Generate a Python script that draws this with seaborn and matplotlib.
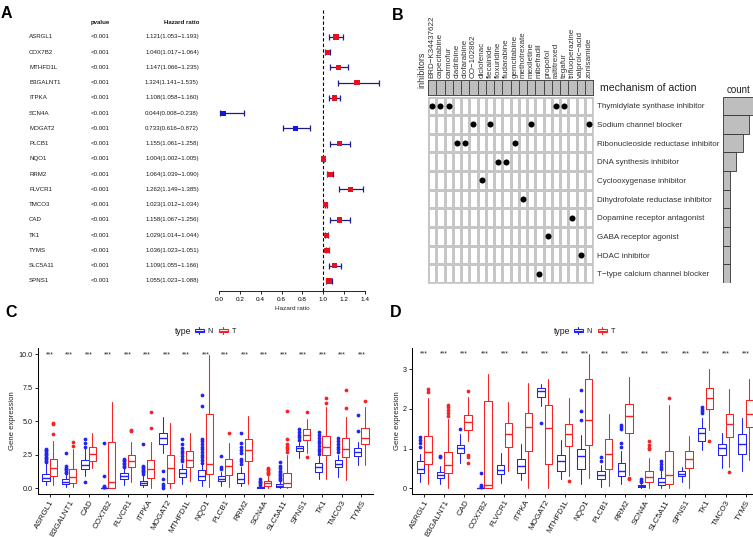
import numpy as np
import pandas as pd
import matplotlib
matplotlib.use("Agg")
import matplotlib.pyplot as plt
import seaborn as sns
from matplotlib import transforms
from matplotlib.colors import ListedColormap
from matplotlib.legend_handler import HandlerBase
from matplotlib.lines import Line2D
from matplotlib.patches import Rectangle, Patch
from matplotlib.ticker import FormatStrFormatter

# ---------------- Panel A data ----------------
a_genes = ["ASRGL1", "COX7B2", "MTHFD1L", "B3GALNT1", "ITPKA", "SCN4A", "MOGAT2", "PLCB1",
           "NQO1", "RRM2", "FLVCR1", "TMCO3", "CAD", "TK1", "TYMS", "SLC5A11", "SPNS1"]
a_pvalue = ["<0.001"] * 17
a_hr = [1.121, 1.040, 1.147, 1.324, 1.108, 0.044, 0.733, 1.155, 1.004, 1.064, 1.262,
        1.023, 1.158, 1.029, 1.036, 1.109, 1.055]
a_low = [1.053, 1.017, 1.066, 1.141, 1.058, 0.008, 0.616, 1.061, 1.002, 1.039, 1.149,
         1.012, 1.067, 1.014, 1.023, 1.055, 1.023]
a_high = [1.193, 1.064, 1.235, 1.535, 1.160, 0.238, 0.872, 1.258, 1.005, 1.090, 1.385,
          1.034, 1.256, 1.044, 1.051, 1.166, 1.088]
a_ticks = [0.0, 0.2, 0.4, 0.6, 0.8, 1.0, 1.2, 1.4]

# ---------------- Panel B data ----------------
b_drugs = ["BRD\u2212K34437622", "capecitabine", "carmofur", "cladribine", "clofarabine",
           "CO\u2212102862", "diclofenac", "flecainide", "floxuridine", "fludarabine",
           "gemcitabine", "methotrexate", "mexiletine", "mibefradil", "propofol",
           "raltitrexed", "tegafur", "trifluoperazine", "valproic\u2212acid", "zonisamide"]
b_moa = ["Thymidylate synthase inhibitor", "Sodium channel blocker",
         "Ribonucleoside reductase inhibitor", "DNA synthesis inhibitor",
         "Cyclooxygenase inhibitor", "Dihydrofolate reductase inhibitor",
         "Dopamine receptor antagonist", "GABA receptor agonist", "HDAC inhibitor",
         "T\u2212type calcium channel blocker"]
b_members = [
    ["BRD\u2212K34437622", "capecitabine", "carmofur", "raltitrexed", "tegafur"],
    ["CO\u2212102862", "flecainide", "mexiletine", "zonisamide"],
    ["cladribine", "clofarabine", "gemcitabine"],
    ["floxuridine", "fludarabine"],
    ["diclofenac"],
    ["methotrexate"],
    ["trifluoperazine"],
    ["propofol"],
    ["valproic\u2212acid"],
    ["mibefradil"],
]
b_counts = [5, 4, 3, 2, 1, 1, 1, 1, 1, 1]

# ---------------- Panels C / D data (box summaries) ----------------
box_genes = ["ASRGL1", "B3GALNT1", "CAD", "COX7B2", "FLVCR1", "ITPKA", "MOGAT2", "MTHFD1L",
             "NQO1", "PLCB1", "RRM2", "SCN4A", "SLC5A11", "SPNS1", "TK1", "TMCO3", "TYMS"]

c_n_q1 = [0.57, 0.33, 1.45, 0.00, 0.72, 0.25, 3.30, 0.84, 0.62, 0.52, 0.42, 0.05, 0.12, 2.80, 1.24, 1.61, 2.40]
c_n_med = [0.76, 0.50, 1.75, 0.00, 0.95, 0.38, 3.72, 1.16, 0.90, 0.69, 0.72, 0.08, 0.20, 3.00, 1.58, 1.81, 2.72]
c_n_q3 = [1.10, 0.68, 2.08, 0.02, 1.12, 0.57, 4.15, 1.45, 1.40, 0.89, 1.13, 0.12, 0.30, 3.18, 1.92, 2.14, 3.02]
c_n_lo = [0.25, 0.12, 0.90, 0.00, 0.25, 0.07, 2.60, 0.30, 0.15, 0.20, 0.15, 0.00, 0.00, 2.25, 0.67, 0.87, 1.75]
c_n_hi = [1.80, 1.05, 2.90, 0.05, 1.50, 1.00, 5.35, 1.85, 1.80, 1.25, 1.60, 0.20, 0.55, 3.45, 2.40, 2.50, 3.45]
c_n_out = [[1.95, 2.05, 2.15, 2.25, 2.35, 2.45, 2.55, 2.65, 2.75, 2.85, 2.95],
           [1.15, 1.25, 1.35, 1.45, 1.55, 1.65, 2.6],
           [0.5, 3.05, 3.35, 3.65],
           [0.08, 0.12, 0.18, 0.95, 3.4],
           [1.6, 1.7, 1.8, 1.9, 2.0, 2.1, 2.2],
           [1.1, 1.2, 1.3, 1.4, 1.5, 1.6, 1.7, 3.3],
           [0.05, 0.15, 0.3, 0.7, 1.3],
           [2.0, 2.2, 2.4, 2.6, 2.8, 3.0, 3.3, 3.7],
           [1.9, 2.1, 2.3, 2.5, 2.7, 2.9, 3.1, 3.3, 3.5, 3.7, 6.1, 6.95],
           [1.45, 1.6, 2.4],
           [1.8, 2.0, 2.2, 2.6, 2.85, 3.1, 3.35, 4.1],
           [0.28, 0.38, 0.48, 0.58, 0.68],
           [0.6, 0.7, 0.8, 0.9, 1.0, 1.1, 1.2, 1.3, 1.5, 1.7, 1.95],
           [3.6, 3.8, 4.0, 4.2, 4.4],
           [2.55, 2.75, 2.95, 3.15, 3.35, 3.55, 3.75, 3.95, 4.2],
           [2.7, 2.9, 3.1, 3.3, 3.55, 3.75],
           [4.3, 5.45]]
c_t_q1 = [0.95, 0.38, 2.05, 0.00, 1.62, 0.78, 0.38, 1.62, 1.04, 1.02, 2.06, 0.17, 0.12, 3.62, 2.48, 2.31, 3.28]
c_t_med = [1.51, 0.84, 2.58, 0.45, 2.00, 1.42, 1.50, 2.12, 1.81, 1.63, 2.85, 0.37, 0.42, 3.98, 3.10, 2.93, 3.77]
c_t_q3 = [2.20, 1.42, 3.08, 3.45, 2.45, 2.10, 2.48, 2.75, 5.50, 2.17, 3.65, 0.55, 1.17, 4.39, 3.92, 3.72, 4.47]
c_t_lo = [0.22, 0.07, 1.49, 0.00, 0.45, 0.00, 0.00, 0.52, 0.12, 0.10, 0.30, 0.00, 0.00, 2.60, 0.67, 0.62, 1.74]
c_t_hi = [3.50, 2.90, 4.10, 6.45, 3.47, 3.47, 4.85, 4.15, 9.95, 3.35, 5.38, 0.95, 2.50, 5.20, 6.03, 5.33, 6.08]
c_t_out = [[4.05, 4.8, 4.88], [3.15, 3.47], [], [], [4.28, 4.36], [4.5, 5.65], [], [], [],
           [4.1], [], [1.05, 1.15, 1.25, 1.35, 1.45, 1.55], [2.7, 2.9, 3.1, 3.3, 3.7, 5.78],
           [2.35, 5.65], [6.35, 6.72], [5.96, 7.32], [6.5]]

d_n_q1 = [0.40, 0.25, 0.88, 0.00, 0.36, 0.40, 2.31, 0.44, 0.50, 0.24, 0.32, 0.04, 0.09, 0.30, 1.18, 0.85, 0.87]
d_n_med = [0.49, 0.33, 1.01, 0.00, 0.47, 0.57, 2.44, 0.70, 0.81, 0.34, 0.45, 0.06, 0.15, 0.37, 1.39, 1.01, 1.12]
d_n_q3 = [0.70, 0.42, 1.09, 0.01, 0.58, 0.75, 2.52, 0.83, 0.99, 0.44, 0.64, 0.08, 0.26, 0.44, 1.52, 1.12, 1.37]
d_n_lo = [0.16, 0.10, 0.65, 0.00, 0.14, 0.21, 2.06, 0.23, 0.12, 0.03, 0.12, 0.00, 0.00, 0.17, 0.96, 0.51, 0.43]
d_n_hi = [0.86, 0.56, 1.38, 0.02, 0.88, 1.12, 2.63, 1.22, 1.35, 0.58, 0.93, 0.12, 0.43, 0.55, 1.77, 1.39, 1.77]
d_n_out = [[1.05, 1.15, 1.22, 1.3], [0.78, 0.82], [1.5], [0.04, 0.06, 0.08, 0.38], [], [], [1.65], [],
           [1.72, 1.94, 2.47], [0.7, 0.78], [1.05, 1.15, 1.5, 1.55, 1.6], [0.15, 0.19, 0.24],
           [0.5, 0.55, 0.62, 0.7], [], [1.9, 1.95, 2.0, 2.05], [], []]
d_t_q1 = [0.61, 0.38, 1.47, 0.00, 1.05, 0.93, 0.61, 1.06, 1.08, 0.50, 1.40, 0.16, 0.10, 0.52, 2.00, 1.29, 1.55]
d_t_med = [0.91, 0.60, 1.66, 0.09, 1.37, 1.54, 1.53, 1.37, 1.71, 0.86, 1.82, 0.29, 0.34, 0.73, 2.28, 1.61, 1.88]
d_t_q3 = [1.32, 0.91, 1.85, 2.20, 1.65, 1.90, 2.10, 1.62, 2.76, 1.24, 2.11, 0.45, 0.93, 0.93, 2.53, 1.86, 2.22]
d_t_lo = [0.11, 0.00, 1.20, 0.00, 0.43, 0.00, 0.00, 0.30, 0.25, 0.05, 0.34, 0.00, 0.00, 0.02, 1.48, 0.55, 0.72]
d_t_hi = [2.27, 1.75, 2.30, 2.88, 2.18, 2.66, 2.75, 2.27, 3.38, 1.88, 2.79, 0.76, 2.10, 1.33, 3.00, 2.49, 2.75]
d_t_out = [[2.42, 2.5], [1.82, 1.9, 1.98, 2.05, 2.1], [0.65, 0.8, 0.85, 2.45], [], [], [], [], [0.18],
           [], [], [0.23, 0.27], [0.98, 1.02, 1.1, 1.2], [2.28], [], [1.2], [0.42], []]

sig_labels = ["***"] * 17

# ---------------- style ----------------
sns.set_theme(style="white")
plt.rcParams["font.family"] = ["Liberation Sans", "DejaVu Sans"]
plt.rcParams["text.color"] = "#1A1A1A"
plt.rcParams["axes.edgecolor"] = "black"
plt.rcParams["xtick.color"] = "black"
plt.rcParams["ytick.color"] = "black"

W, H = 753, 537
fig = plt.figure(figsize=(W / 100, H / 100), dpi=100)


def px_axes(x0, y0, x1, y1):
    return fig.add_axes([x0 / W, 1 - y1 / H, (x1 - x0) / W, (y1 - y0) / H])


# ================= Panel A: forest plot =================
axA = px_axes(219, 10, 365, 291)
dfA = pd.DataFrame({"gene": a_genes, "hr": a_hr, "low": a_low, "high": a_high,
                    "row": np.arange(len(a_genes))})
dfA["dir"] = np.where(dfA["hr"] > 1, "risk", "protect")
axA.errorbar(dfA["hr"], dfA["row"], xerr=[dfA["hr"] - dfA["low"], dfA["high"] - dfA["hr"]],
             fmt="none", ecolor="#1C1C8A", elinewidth=0.9, capsize=2.0, capthick=0.9,
             zorder=2, clip_on=False)
sns.scatterplot(data=dfA, x="hr", y="row", hue="dir",
                palette={"risk": "#E3121F", "protect": "#1414E6"}, marker="s", s=15,
                linewidth=0, legend=False, zorder=3, ax=axA, clip_on=False)
axA.axvline(1.0, color="black", lw=0.8, ls=(0, (3, 2)), zorder=1)
axA.set_xlim(0, 1.4)
axA.set_ylim(16.66, -1.77)
axA.set_xticks(a_ticks)
axA.set_xticklabels([f"{t:.1f}" for t in a_ticks])
axA.set_yticks([])
for s in ["left", "top", "right"]:
    axA.spines[s].set_visible(False)
axA.spines["bottom"].set_linewidth(0.6)
axA.tick_params(axis="x", length=2.5, width=0.6, labelsize=4.6, pad=1.5, bottom=True)
axA.set_xlabel("Hazard ratio", fontsize=4.6, labelpad=3)
axA.set_ylabel("")

trA = transforms.blended_transform_factory(fig.transFigure, axA.transData)
axA.text(91 / W, -0.92, "pvalue", transform=trA, fontsize=4.4, fontweight="bold",
         ha="left", va="center")
axA.text(199 / W, -0.92, "Hazard ratio", transform=trA, fontsize=4.4, fontweight="bold",
         ha="right", va="center")
for i, g in enumerate(a_genes):
    axA.text(29 / W, i, g, transform=trA, fontsize=4.4, ha="left", va="center")
    axA.text(91 / W, i, a_pvalue[i], transform=trA, fontsize=4.4, ha="left", va="center")
    axA.text(199 / W, i, f"{a_hr[i]:.3f}({a_low[i]:.3f}\u2212{a_high[i]:.3f})",
             transform=trA, fontsize=4.4, ha="right", va="center")

# ================= Panel B: drug / MOA grid =================
axH = px_axes(428, 80, 593, 95)
sns.heatmap(pd.DataFrame(np.zeros((1, len(b_drugs))), columns=b_drugs),
            cmap=ListedColormap(["#BEBEBE"]), cbar=False, linewidths=0.7,
            linecolor="#4A4A4A", ax=axH, xticklabels=True, yticklabels=False)
axH.tick_params(axis="x", top=False, bottom=False, labeltop=True, labelbottom=False,
                length=0, pad=1.5)
axH.set_xticks(np.arange(len(b_drugs)) + 0.5)
axH.set_xticklabels(b_drugs, rotation=90, fontsize=5.8, color="#333333")
for lbl in axH.xaxis.get_ticklabels(which="major"):
    lbl.set_verticalalignment("bottom")
for s in axH.spines.values():
    s.set_visible(True)
    s.set_color("#4A4A4A")
    s.set_linewidth(0.7)
axH.set_xlabel("")
axH.set_ylabel("")

mat = np.zeros((len(b_moa), len(b_drugs)))
for r, mem in enumerate(b_members):
    for d in mem:
        mat[r, b_drugs.index(d)] = 1
axBd = px_axes(428, 96.5, 593, 283)
sns.heatmap(np.zeros_like(mat), cmap=ListedColormap(["white"]), cbar=False,
            linewidths=0.9, linecolor="#C6C6C6", ax=axBd, xticklabels=False,
            yticklabels=False)
rr, cc = np.nonzero(mat)
sns.scatterplot(x=cc + 0.5, y=rr + 0.5, color="black", s=19, linewidth=0, ax=axBd,
                legend=False)
axBd.set_xlim(0, len(b_drugs))
axBd.set_ylim(len(b_moa), 0)
axBd.set_yticks(np.arange(len(b_moa)) + 0.5)
axBd.set_yticklabels(b_moa, rotation=0, fontsize=5.8, color="#333333")
axBd.yaxis.set_ticks_position("right")
axBd.tick_params(axis="y", length=0, pad=3, labelright=True, labelleft=False)
axBd.set_xticks([])
for s in axBd.spines.values():
    s.set_visible(True)
    s.set_color("#C6C6C6")
    s.set_linewidth(0.6)

axCnt = px_axes(723, 96.5, 723 + 5.5 * 6.6, 283)
dfCnt = pd.DataFrame({"moa": b_moa, "count": b_counts})
sns.barplot(data=dfCnt, x="count", y="moa", orient="h", color="#BEBEBE", saturation=1,
            edgecolor="#333333", linewidth=0.6, width=1.0, ax=axCnt)
axCnt.set_xlim(0, 5.5)
axCnt.set_ylim(len(b_moa) - 0.5, -0.5)
axCnt.axis("off")

fig.text(600 / W, 1 - 88 / H, "mechanism of action", fontsize=7.6, va="center",
         ha="left", color="#222222")
fig.text(727 / W, 1 - 90 / H, "count", fontsize=7.0, va="center", ha="left",
         color="#222222")
fig.text(421.5 / W, 1 - 70 / H, "inhibitors", fontsize=6.5, rotation=90, va="center",
         ha="center", color="#333333")


# ================= Panels C & D: box plots =================
class BoxKeyHandler(HandlerBase):
    def create_artists(self, legend, orig_handle, xdescent, ydescent, width, height,
                       fontsize, trans):
        c = orig_handle.get_edgecolor()
        x0, y0 = -xdescent, -ydescent
        rect = Rectangle((x0, y0 + 0.22 * height), width, 0.56 * height, fc="white",
                         ec=c, lw=0.8, transform=trans)
        med = Line2D([x0, x0 + width], [y0 + 0.5 * height] * 2, color=c, lw=0.8,
                     transform=trans)
        w1 = Line2D([x0 + width / 2] * 2, [y0, y0 + 0.22 * height], color=c, lw=0.8,
                    transform=trans)
        w2 = Line2D([x0 + width / 2] * 2, [y0 + 0.78 * height, y0 + height], color=c,
                    lw=0.8, transform=trans)
        return [rect, med, w1, w2]


def make_stats(q1, med, q3, lo, hi, out):
    return [dict(q1=q1[i], med=med[i], q3=q3[i], whislo=lo[i], whishi=hi[i],
                 fliers=np.array(out[i])) for i in range(len(q1))]


def draw_box_panel(ax, n_stats, t_stats, ylim, yticks, ytick_fmt, star_y, ylab_x):
    pos = np.arange(len(box_genes))
    for stats, off, col in [(n_stats, -0.1875, "#2323F5"), (t_stats, 0.1875, "#F52323")]:
        ax.bxp(stats, positions=pos + off, widths=0.37, showcaps=False, showfliers=True,
               manage_ticks=False,
               boxprops=dict(color=col, lw=0.75),
               medianprops=dict(color=col, lw=1.0),
               whiskerprops=dict(color=col, lw=0.75),
               flierprops=dict(marker="o", markerfacecolor=col, markeredgecolor="none",
                               markersize=2.7))
    for i, lab in enumerate(sig_labels):
        ax.text(i, star_y, lab, ha="center", va="center", fontsize=5, color="#222222")
    ax.set_xlim(-0.6, len(box_genes) - 0.4)
    ax.set_ylim(*ylim)
    ax.set_yticks(yticks)
    ax.yaxis.set_major_formatter(FormatStrFormatter(ytick_fmt))
    ax.set_xticks(pos)
    ax.set_xticklabels(box_genes, rotation=60, ha="right", va="top",
                       rotation_mode="anchor", fontsize=5.8, color="#1A1A1A")
    for s in ["top", "right"]:
        ax.spines[s].set_visible(False)
    for s in ["left", "bottom"]:
        ax.spines[s].set_linewidth(0.75)
    ax.tick_params(axis="both", length=2.5, width=0.6, bottom=True, left=True)
    ax.tick_params(axis="y", labelsize=5.2, pad=1.5, labelcolor="#1A1A1A")
    ax.tick_params(axis="x", pad=1.0)
    ax.set_ylabel("Gene expression", fontsize=5.6, va="center")
    ax.yaxis.set_label_coords(ylab_x, 0.5)


axC = px_axes(38, 348, 38 + 17.2 * 19.48, 494)
draw_box_panel(axC,
               make_stats(c_n_q1, c_n_med, c_n_q3, c_n_lo, c_n_hi, c_n_out),
               make_stats(c_t_q1, c_t_med, c_t_q3, c_t_lo, c_t_hi, c_t_out),
               (-0.42, 10.45), [0.0, 2.5, 5.0, 7.5, 10.0], "%.1f", 9.93, (13 - 38) / (17.2 * 19.48))

axD = px_axes(412, 348, 412 + 17.2 * 20.1, 494)
draw_box_panel(axD,
               make_stats(d_n_q1, d_n_med, d_n_q3, d_n_lo, d_n_hi, d_n_out),
               make_stats(d_t_q1, d_t_med, d_t_q3, d_t_lo, d_t_hi, d_t_out),
               (-0.14, 3.53), [0, 1, 2, 3], "%d", 3.37, (398 - 412) / (17.2 * 20.1))

handles = [Patch(facecolor="white", edgecolor="#2323F5"),
           Patch(facecolor="white", edgecolor="#F52323")]
for type_x, key_x in [(175, 195), (554, 574)]:
    fig.text(type_x / W, 1 - 331 / H, "type", fontsize=6.2, va="center", ha="left",
             color="#1A1A1A")
    fig.legend(handles=handles, labels=["N", "T"], loc="center left",
               bbox_to_anchor=(key_x / W, 1 - 331 / H), bbox_transform=fig.transFigure,
               ncol=2, frameon=False, fontsize=5.2, handlelength=1.2, handleheight=1.1,
               handletextpad=0.5, columnspacing=0.9, borderpad=0, borderaxespad=0,
               handler_map={Patch: BoxKeyHandler()})

# panel letters
for lab, x, y in [("A", 1, 6), ("B", 392, 8), ("C", 5, 305), ("D", 390, 305)]:
    fig.text(x / W, 1 - y / H, lab, fontsize=11.5, fontweight="bold", va="top", ha="left",
             color="black")

fig.savefig("out.png", dpi=100)
